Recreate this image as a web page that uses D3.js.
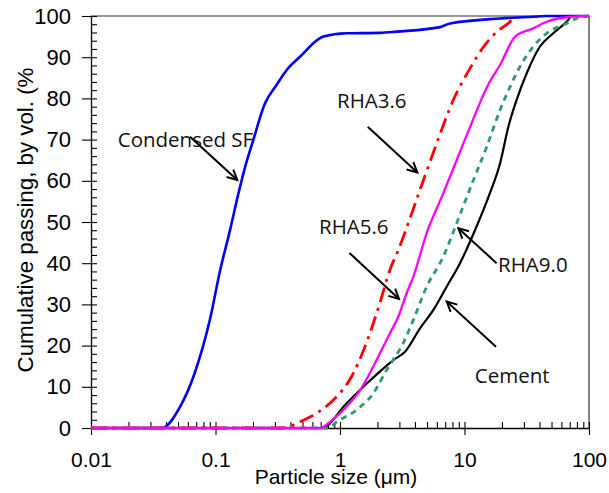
<!DOCTYPE html>
<html lang="en">
<head>
    <meta charset="UTF-8">
    <script src="https://cdn.jsdelivr.net/npm/d3@7"></script>
    <title>Cumulative particle size distribution</title>
    <style>
        html,
        body {
            margin: 0px;
            padding: 0px;
            background-color: #ffffff;
        }
        #chart svg {
            display: block;
        }
        .axis text {
            font-family: "Liberation Sans", Arial, sans-serif;
            fill: #000;
        }
        .note {
            font-family: "Open Sans", sans-serif;
            font-size: 20.5px;
            fill: #111;
        }
    </style>
</head>
<body>
    <div id="chart"></div>

    <script>
        // values (size in µm, passing in %)
        let sfSize = [0.01, 0.037, 0.052, 0.068, 0.090, 0.109, 0.131, 0.153, 0.173, 0.201, 0.250, 0.31, 0.373, 0.477, 0.735, 1.13, 2.09, 2.85, 6.35, 7.65, 19.3, 35.5, 45, 100];
        let sfPass = [0, 0, 5.2, 13.3, 26.2, 38.3, 48.1, 57.0, 63.4, 69.9, 78.8, 83.3, 86.9, 90.1, 95.0, 95.8, 95.9, 96.2, 97.3, 98.2, 99.4, 99.8, 100, 100];

        let rha36Size = [0.01, 0.348, 0.477, 0.650, 0.884, 1.24, 1.59, 2.09, 2.52, 2.94, 4.39, 5.98, 8.13, 10.7, 14.6, 18.2, 23.2, 24.5];
        let rha36Pass = [0, 0, 1.5, 3.6, 6.8, 12.5, 19.8, 30.3, 38.4, 43.2, 57.8, 69.1, 79.6, 86.5, 93.0, 96.2, 98.6, 99.4];

        let rha56Size = [0.01, 0.691, 0.832, 1.13, 1.45, 2.09, 2.52, 2.94, 3.43, 3.88, 4.97, 6.76, 8.65, 11.1, 15.5, 19.3, 25.5, 35.7, 45.7, 66.2, 100];
        let rha56Pass = [0, 0, 1.5, 5.2, 9.2, 18.1, 23.0, 27.0, 32.7, 36.7, 47.3, 57.0, 65.0, 73.1, 83.3, 88.1, 95.0, 97.0, 98.6, 99.7, 100];

        let rha90Size = [0.01, 0.801, 0.940, 1.36, 1.85, 2.37, 3.22, 3.88, 4.97, 6.76, 8.65, 11.8, 15.1, 19.3, 23.2, 27.9, 35.7, 45.7, 66.2, 79.6, 100];
        let rha90Pass = [0, 0, 1.5, 4.4, 8.4, 14.1, 20.6, 26.2, 34.3, 41.6, 49.7, 60.2, 68.3, 77.2, 82.8, 87.7, 92.6, 95.8, 98.2, 99.4, 100];

        let cemSize = [0.01, 0.713, 1.13, 1.64, 2.09, 2.68, 3.33, 4.39, 5.61, 7.19, 9.20, 12.5, 16.0, 19.3, 22.5, 26.2, 31.6, 40.4, 51.6, 66.2, 73, 100];
        let cemPass = [0, 0, 6.0, 10.8, 13.7, 16.5, 18.5, 24.2, 28.6, 34.3, 40.0, 48.9, 57.0, 64.2, 73.1, 79.6, 86.1, 92.6, 95.8, 98.6, 100, 100];

        let xTicks = [0.01, 0.1, 1, 10, 100];
        let xTickLabels = ['0.01', '0.1', '1', '10', '100'];
        let yTicks = [0, 10, 20, 30, 40, 50, 60, 70, 80, 90, 100];

        // annotation text, label anchor [size, passing], arrow from/to [size, passing]
        let noteText = ['Condensed SF', 'RHA3.6', 'RHA5.6', 'RHA9.0', 'Cement'];
        let noteAt = [[0.0164, 68.3], [0.946, 77.6], [0.678, 47.0], [18.6, 37.9], [12.1, 10.9]];
        let arrowFrom = [[0.0624, 70.7], [1.67, 73.1], [1.19, 42.5], [18.1, 40.0], [17.9, 19.7]];
        let arrowTo = [[0.1496, 60.2], [4.18, 62.0], [2.98, 31.3], [8.92, 48.5], [7.19, 30.7]];

        let width = 609;
        let height = 493;

        let margin = {
            top: 16,
            bottom: 65,
            left: 91,
            right: 20
        }

        let svg = d3.select('#chart').append('svg').attr('width', width).attr('height', height);

        let x = d3.scaleLog().domain([0.01, 100]).range([margin.left, width - margin.right]);
        let y = d3.scaleLinear().domain([0, 100]).range([height - margin.bottom, margin.top]);

        let xMinor = [];
        [0.01, 0.1, 1, 10].forEach((dec) => {
            for (let k = 2; k <= 9; k++) xMinor.push(dec * k);
        });
        let yMinor = d3.range(0, 101, 2);

        // frame top and right
        svg.append('path')
            .attr('d', `M${x(0.01)},${y(100)}H${x(100)}V${y(0)}`)
            .attr('fill', 'none')
            .attr('stroke', '#333')
            .attr('stroke-width', 1.2);

        // y axis: outward major ticks with labels, inward minor ticks
        let yAxis = svg.append('g')
            .attr('class', 'axis')
            .attr('transform', `translate(${x(0.01)},0)`)
            .call(d3.axisLeft(y).tickValues(yTicks).tickSize(9).tickPadding(11).tickSizeOuter(0));
        yAxis.selectAll('text').style('font-size', '22px');
        svg.append('g')
            .attr('transform', `translate(${x(0.01)},0)`)
            .call(d3.axisRight(y).tickValues(yMinor).tickSize(6).tickFormat('').tickSizeOuter(0))
            .call((g) => g.select('.domain').remove());

        // x axis
        let xAxis = svg.append('g')
            .attr('class', 'axis')
            .attr('transform', `translate(0,${y(0)})`)
            .call(d3.axisBottom(x).tickValues(xTicks).tickSize(7).tickPadding(17).tickSizeOuter(0)
                .tickFormat((d, i) => xTickLabels[i]));
        xAxis.selectAll('text').style('font-size', '21px');
        svg.append('g')
            .attr('transform', `translate(0,${y(0)})`)
            .call(d3.axisTop(x).tickValues(xTicks.concat(xMinor)).tickSize(6).tickFormat('').tickSizeOuter(0))
            .call((g) => g.select('.domain').remove());

        svg.selectAll('.tick line').attr('stroke', '#000').attr('stroke-width', 1.1);
        svg.selectAll('.domain').attr('stroke', '#000').attr('stroke-width', 1.3);

        // axis titles
        svg.append('text')
            .attr('x', (x(0.01) + x(100)) / 2 - 4)
            .attr('y', 484)
            .attr('text-anchor', 'middle')
            .style('font-family', '"Liberation Sans", Arial, sans-serif')
            .style('font-size', '21px')
            .text('Particle size (μm)');

        svg.append('text')
            .attr('transform', 'translate(33,220) rotate(-90)')
            .attr('text-anchor', 'middle')
            .style('font-family', '"Liberation Sans", Arial, sans-serif')
            .style('font-size', '22.3px')
            .text('Cumulative passing, by vol. (%');

        // curves
        let line = d3.line()
            .x((d) => x(d[0]))
            .y((d) => y(d[1]))
            .curve(d3.curveMonotoneX);

        let series = [
            { size: sfSize, pass: sfPass, color: '#0000ff', width: 2.6, dash: null },
            { size: cemSize, pass: cemPass, color: '#000000', width: 2.2, dash: null },
            { size: rha90Size, pass: rha90Pass, color: '#339966', width: 2.8, dash: '6,5' },
            { size: rha36Size, pass: rha36Pass, color: '#ff0000', width: 2.8, dash: '15,6,3,6' },
            { size: rha56Size, pass: rha56Pass, color: '#ff00ff', width: 2.3, dash: null }
        ];

        let plot = svg.append('g');
        plot.selectAll('path')
            .data(series)
            .join('path')
            .attr('d', (s) => line(s.size.map((v, i) => [v, s.pass[i]])))
            .attr('fill', 'none')
            .attr('stroke', (s) => s.color)
            .attr('stroke-width', (s) => s.width)
            .attr('stroke-dasharray', (s) => s.dash)
            .attr('stroke-linejoin', 'round');

        // annotations
        svg.append('defs').append('marker')
            .attr('id', 'head')
            .attr('markerUnits', 'userSpaceOnUse')
            .attr('viewBox', '-12 -7 14 14')
            .attr('markerWidth', 14)
            .attr('markerHeight', 14)
            .attr('refX', 0)
            .attr('refY', 0)
            .attr('orient', 'auto')
            .append('path')
            .attr('d', 'M-10,-5L0,0L-10,5')
            .attr('fill', 'none')
            .attr('stroke', '#000')
            .attr('stroke-width', 2);

        svg.append('g').selectAll('line')
            .data(arrowFrom)
            .join('line')
            .attr('x1', (d) => x(d[0]))
            .attr('y1', (d) => y(d[1]))
            .attr('x2', (d, i) => x(arrowTo[i][0]))
            .attr('y2', (d, i) => y(arrowTo[i][1]))
            .attr('stroke', '#000')
            .attr('stroke-width', 2)
            .attr('marker-end', 'url(#head)');

        svg.append('g').selectAll('text')
            .data(noteText)
            .join('text')
            .attr('class', 'note')
            .attr('x', (d, i) => x(noteAt[i][0]))
            .attr('y', (d, i) => y(noteAt[i][1]))
            .text((d) => d);
    </script>
</body>
</html>
